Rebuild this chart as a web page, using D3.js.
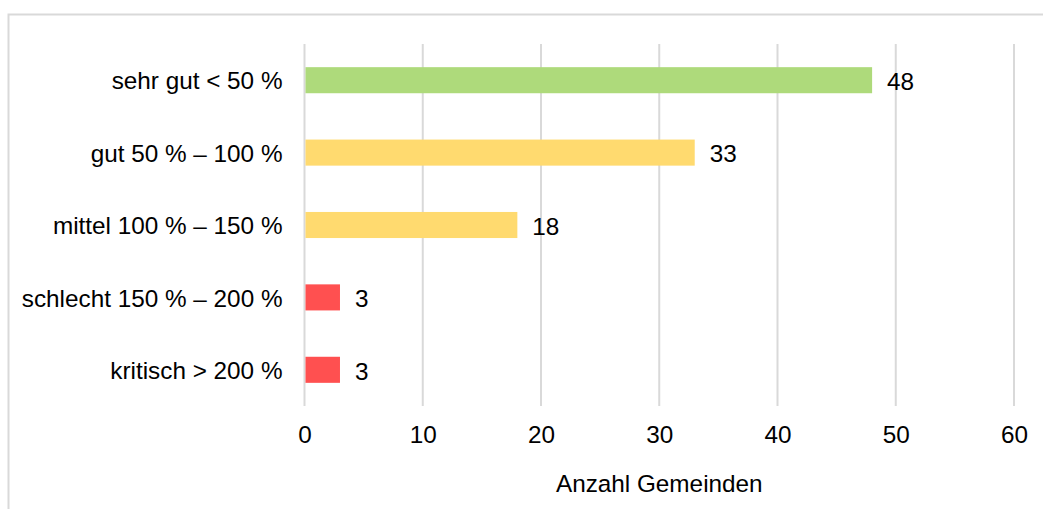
<!DOCTYPE html>
<html>
<head>
<meta charset="utf-8">
<script src="https://cdn.jsdelivr.net/npm/d3@7"></script>
<style>
  html, body { margin: 0; padding: 0; background: #fff; }
  svg { display: block; font-family: "Liberation Sans", Arial, sans-serif; }
</style>
</head>
<body>
<svg id="chart" width="1043" height="509"></svg>
<script>
const categories = ["sehr gut < 50 %", "gut 50 % – 100 %", "mittel 100 % – 150 %", "schlecht 150 % – 200 %", "kritisch > 200 %"];
const values = [48, 33, 18, 3, 3];
const colors = ["#AEDA7B", "#FFDA6F", "#FFDA6F", "#FF5050", "#FF5050"];
const xTicks = [0, 10, 20, 30, 40, 50, 60];
const xTitle = "Anzahl Gemeinden";

(function () {
const svg = d3.select("#chart");
const W = 1043, H = 509;
const pLeft = 304.5, pRight = 1014, pTop = 44, pBottom = 406;
const fs = 24.3;

// frame border
svg.append("path")
  .attr("d", `M8.5,${H} L8.5,14.5 L${W},14.5`)
  .attr("fill", "none").attr("stroke", "#d9d9d9").attr("stroke-width", 2);

const x = d3.scaleLinear().domain([0, 60]).range([pLeft, pRight]);
const y = d3.scaleBand().domain(categories).range([pTop, pBottom]).paddingInner(0.64).paddingOuter(0.32);

// gridlines
svg.append("g").selectAll("line").data(xTicks).join("line")
  .attr("x1", d => x(d)).attr("x2", d => x(d))
  .attr("y1", pTop).attr("y2", pBottom)
  .attr("stroke", "#d9d9d9").attr("stroke-width", 2);

// x axis labels
const xAxis = d3.axisBottom(x).tickValues(xTicks).tickSize(0).tickPadding(0);
const gx = svg.append("g").attr("transform", `translate(0,${pBottom})`).call(xAxis);
gx.select(".domain").remove();
gx.selectAll("text").attr("font-size", fs).attr("font-family", "Liberation Sans, Arial, sans-serif")
  .attr("fill", "#000").attr("dy", null).attr("y", 37);

// y axis labels
const yAxis = d3.axisLeft(y).tickSize(0).tickPadding(0);
const gy = svg.append("g").attr("transform", `translate(${pLeft - 22},0)`).call(yAxis);
gy.select(".domain").remove();
gy.selectAll("text").attr("font-size", fs).attr("font-family", "Liberation Sans, Arial, sans-serif")
  .attr("fill", "#000").attr("dy", "0.38em");

// bars
svg.append("g").selectAll("rect").data(categories).join("rect")
  .attr("x", x(0) + 1)
  .attr("y", d => y(d))
  .attr("width", (d, i) => x(values[i]) - x(0) - 1)
  .attr("height", y.bandwidth())
  .attr("fill", (d, i) => colors[i]);

// value labels
svg.append("g").selectAll("text").data(categories).join("text")
  .attr("x", (d, i) => x(values[i]) + 15)
  .attr("y", d => y(d) + y.bandwidth() / 2)
  .attr("dy", "0.4em")
  .attr("font-size", fs)
  .attr("fill", "#000")
  .text((d, i) => values[i]);

// axis title
svg.append("text")
  .attr("x", (pLeft + pRight) / 2)
  .attr("y", 492)
  .attr("text-anchor", "middle")
  .attr("font-size", fs)
  .attr("fill", "#000")
  .text(xTitle);
})();
</script>
</body>
</html>
